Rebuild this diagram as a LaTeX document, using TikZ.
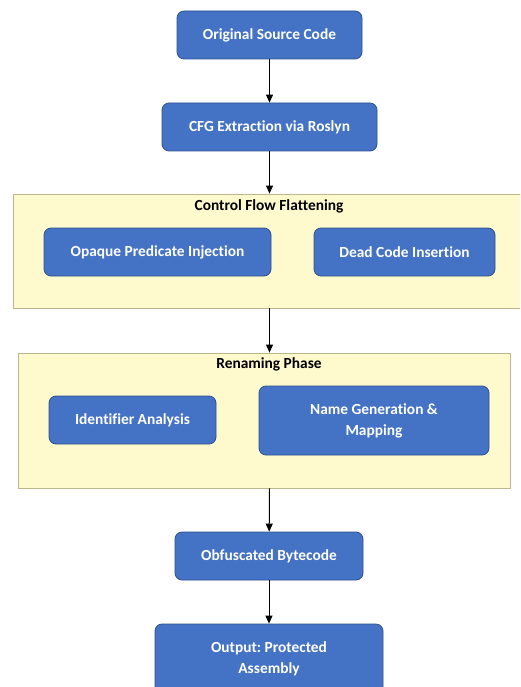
\documentclass[tikz,border=0pt]{standalone}
\usepackage{fontspec}
\setmainfont{Carlito}[Ligatures=NoCommon]
\usetikzlibrary{arrows.meta}
\definecolor{stagefill}{RGB}{68,114,196}
\definecolor{stageline}{RGB}{47,82,143}
\definecolor{phasefill}{RGB}{255,249,206}
\definecolor{phaseline}{RGB}{190,182,140}
\frenchspacing

\begin{document}
\begin{tikzpicture}[
  x = 1pt, y = -1pt,
  font = \fontsize{15.4}{21}\selectfont\bfseries,
  stage/.style = {
    draw = stageline, fill = stagefill, text = white,
    rounded corners = 7pt, line width = 0.8pt,
    align = center, inner sep = 0pt},
  phase/.style = {
    draw = phaseline, fill = phasefill,
    line width = 0.8pt, inner sep = 0pt},
  flow/.style = {
    -{Triangle[length=8pt,width=7pt]}, line width = 1pt}
  ]
  \clip (0,0) rectangle (520,687);
  \fill[white] (0,0) rectangle (520,687);

  % main line
  \node [stage, minimum width=185pt, minimum height=48pt] (source) at (269.5,35) {Original Source Code};
  \node [stage, minimum width=215pt, minimum height=48pt] (cfg) at (269.5,127) {CFG Extraction via Roslyn};

  % control flow flattening
  \node [phase, minimum width=510pt, minimum height=114pt] (flatten) at (268,251) {};
  \node (flattitle) at (269,206) {Control Flow Flattening};
  \node [stage, minimum width=227pt, minimum height=48pt] (opaque) at (157.5,252) {Opaque Predicate Injection};
  \node [stage, minimum width=181pt, minimum height=48pt] (deadcode) at (404.5,252) {Dead Code Insertion};

  % renaming
  \node [phase, minimum width=492pt, minimum height=135pt] (renaming) at (264,420.5) {};
  \node (renametitle) at (269,364) {Renaming Phase};
  \node [stage, minimum width=167pt, minimum height=48pt] (ident) at (132.5,420) {Identifier Analysis};
  \node [stage, minimum width=230pt, minimum height=69pt] (namegen) at (374,420.5) {Name Generation \&\\Mapping};

  \node [stage, minimum width=188pt, minimum height=48pt] (bytecode) at (269,556) {Obfuscated Bytecode};
  \node [stage, minimum width=228pt, minimum height=70pt] (output) at (269,659) {Output: Protected\\Assembly};

  % arrows
  \draw [flow] (source) -- (cfg);
  \draw [flow] (cfg.south) -- (cfg.south |- flatten.north);
  \draw [flow] (cfg.south |- flatten.south) -- (cfg.south |- renaming.north);
  \draw [flow] (cfg.south |- renaming.south) -- (bytecode);
  \draw [flow] (bytecode) -- (output);
\end{tikzpicture}
\end{document}
